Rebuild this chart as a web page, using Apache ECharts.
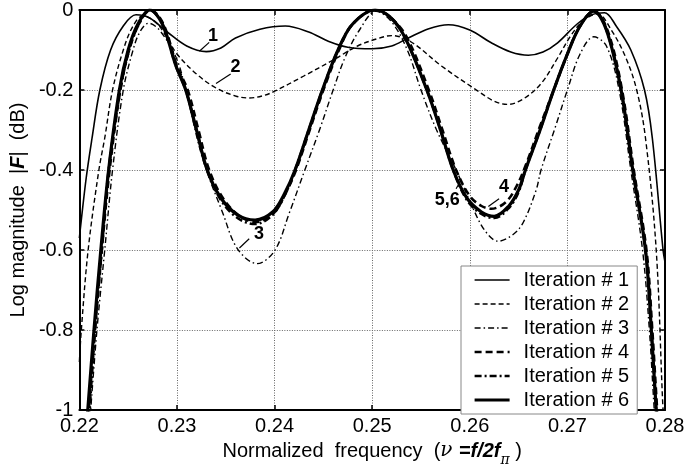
<!DOCTYPE html>
<html><head><meta charset="utf-8">
<script src="https://cdn.jsdelivr.net/npm/echarts@6/dist/echarts.min.js"></script>
<style>html,body{margin:0;padding:0;background:#fff}#c{width:697px;height:472px}</style>
</head><body><div id="c"></div>
<script>
// ---- data ----
const seriesNames = ['Iteration # 1','Iteration # 2','Iteration # 3','Iteration # 4','Iteration # 5','Iteration # 6'];

const x1 = [0.2200,0.2207,0.2213,0.2221,0.2232,0.2245,0.2258,0.2272,0.2290,0.2310,0.2330,0.2345,0.2360,0.2385,0.2411,0.2435,0.2455,0.2475,0.2500,0.2520,0.2537,0.2558,0.2578,0.2600,0.2622,0.2642,0.2660,0.2675,0.2690,0.2710,0.2725,0.2738,0.2750,0.2765,0.2779,0.2787,0.2798,0.2800];
const y1 = [-0.57,-0.42,-0.32,-0.2,-0.1,-0.04,-0.012,-0.02,-0.055,-0.09,-0.104,-0.095,-0.07,-0.048,-0.04,-0.055,-0.078,-0.093,-0.097,-0.09,-0.07,-0.047,-0.037,-0.05,-0.082,-0.105,-0.113,-0.105,-0.082,-0.035,-0.012,-0.007,-0.04,-0.1,-0.2,-0.32,-0.6,-0.63];

const x2 = [0.2200,0.2202,0.2209,0.2220,0.2226,0.2234,0.2245,0.2255,0.2265,0.2278,0.2290,0.2300,0.2320,0.2340,0.2360,0.2374,0.2390,0.2400,0.2430,0.2460,0.2485,0.2505,0.2520,0.2540,0.2571,0.2605,0.2625,0.2639,0.2655,0.2673,0.2690,0.2703,0.2717,0.2731,0.2745,0.2760,0.2771,0.2780,0.2791,0.2798,0.2800];
const y2 = [-0.88,-0.8,-0.6,-0.4,-0.32,-0.2,-0.1,-0.04,-0.015,-0.03,-0.07,-0.11,-0.16,-0.195,-0.215,-0.22,-0.213,-0.203,-0.165,-0.125,-0.09,-0.072,-0.064,-0.08,-0.14,-0.197,-0.228,-0.236,-0.222,-0.184,-0.12,-0.066,-0.025,-0.01,-0.05,-0.12,-0.2,-0.32,-0.6,-1.0,-1.05];

const x3 = [0.2211,0.2218,0.2226,0.2234,0.2245,0.2255,0.2262,0.2271,0.2282,0.2299,0.2309,0.2326,0.2347,0.2362,0.2382,0.2400,0.2415,0.2431,0.2446,0.2460,0.2472,0.2487,0.2504,0.2520,0.2536,0.2550,0.2566,0.2586,0.2601,0.2615,0.2629,0.2645,0.2655,0.2668,0.2673,0.2688,0.2700,0.2713,0.2727,0.2740,0.2753,0.2765,0.2777,0.2784,0.2789,0.2792];
const y3 = [-1.02,-0.8,-0.6,-0.4,-0.2,-0.1,-0.055,-0.033,-0.05,-0.118,-0.2,-0.369,-0.508,-0.597,-0.634,-0.602,-0.508,-0.4,-0.3,-0.2,-0.12,-0.05,-0.003,-0.03,-0.1,-0.2,-0.3,-0.4,-0.483,-0.55,-0.578,-0.56,-0.53,-0.45,-0.4,-0.29,-0.2,-0.11,-0.067,-0.09,-0.2,-0.4,-0.6,-0.8,-1.0,-1.1];

const x4 = [0.2209,0.2216,0.2223,0.2231,0.2242,0.2251,0.2261,0.2273,0.2286,0.2300,0.2311,0.2322,0.2333,0.2347,0.2364,0.2381,0.2399,0.2411,0.2422,0.2436,0.2450,0.2466,0.2480,0.2503,0.2518,0.2535,0.2558,0.2572,0.2586,0.2600,0.2612,0.2622,0.2637,0.2648,0.2657,0.2672,0.2686,0.2700,0.2713,0.2727,0.2741,0.2756,0.2768,0.2781,0.2787,0.2792,0.2795];
const y4 = [-1.02,-0.8,-0.6,-0.4,-0.2,-0.1,-0.035,0,-0.035,-0.14,-0.2,-0.3,-0.4,-0.47,-0.515,-0.53,-0.508,-0.46,-0.4,-0.3,-0.2,-0.1,-0.035,0,-0.017,-0.066,-0.2,-0.3,-0.4,-0.465,-0.49,-0.497,-0.48,-0.44,-0.39,-0.29,-0.2,-0.11,-0.04,-0.003,-0.05,-0.2,-0.4,-0.6,-0.8,-1.0,-1.1];

const x5 = [0.2210,0.2216,0.2223,0.2230,0.2242,0.2251,0.2261,0.2272,0.2285,0.2299,0.2309,0.2320,0.2331,0.2345,0.2362,0.2380,0.2398,0.2410,0.2421,0.2435,0.2449,0.2465,0.2480,0.2503,0.2518,0.2533,0.2556,0.2570,0.2583,0.2597,0.2612,0.2625,0.2640,0.2650,0.2657,0.2672,0.2686,0.2700,0.2713,0.2727,0.2740,0.2755,0.2767,0.2780,0.2786,0.2791,0.2794];
const y5 = [-1.02,-0.8,-0.6,-0.4,-0.2,-0.1,-0.035,0,-0.035,-0.14,-0.2,-0.3,-0.4,-0.475,-0.52,-0.535,-0.512,-0.465,-0.4,-0.3,-0.2,-0.1,-0.035,0,-0.017,-0.066,-0.2,-0.3,-0.4,-0.475,-0.51,-0.52,-0.495,-0.455,-0.4,-0.3,-0.2,-0.11,-0.04,-0.003,-0.05,-0.2,-0.4,-0.6,-0.8,-1.0,-1.1];

const x6 = [0.2208,0.2215,0.2222,0.2230,0.2241,0.2250,0.2260,0.2272,0.2285,0.2299,0.2309,0.2320,0.2331,0.2345,0.2362,0.2380,0.2398,0.2410,0.2421,0.2435,0.2449,0.2465,0.2480,0.2503,0.2518,0.2533,0.2556,0.2570,0.2583,0.2597,0.2612,0.2625,0.2640,0.2650,0.2657,0.2672,0.2686,0.2700,0.2713,0.2727,0.2740,0.2755,0.2767,0.2780,0.2786,0.2791,0.2794];
const y6 = [-1.02,-0.8,-0.6,-0.4,-0.2,-0.1,-0.035,0,-0.035,-0.14,-0.2,-0.3,-0.4,-0.47,-0.512,-0.525,-0.505,-0.46,-0.4,-0.3,-0.2,-0.1,-0.035,0,-0.017,-0.066,-0.2,-0.3,-0.4,-0.47,-0.505,-0.516,-0.49,-0.45,-0.4,-0.3,-0.2,-0.11,-0.04,-0.003,-0.05,-0.2,-0.4,-0.6,-0.8,-1.0,-1.1];

// curve annotations (data coordinates)
const annoText  = ['1','2','3','4','5,6'];
const annoTextX = [0.2337,0.2360,0.2384,0.2635,0.2577];
const annoTextY = [-0.066,-0.143,-0.560,-0.442,-0.474];
const annoLineX0 = [0.2323,0.2340,0.2364,0.2619,0.2586];
const annoLineY0 = [-0.103,-0.184,-0.595,-0.491,-0.447];
const annoLineX1 = [0.2333,0.2355,0.2374,0.2630,0.2591];
const annoLineY1 = [-0.081,-0.160,-0.572,-0.472,-0.425];

// ---- chart ----
const FONT = 'Liberation Sans, Arial, sans-serif';
const xs = [x1,x2,x3,x4,x5,x6], ys = [y1,y2,y3,y4,y5,y6];
const styles = [
  {width:1.6, type:'solid'},
  {width:1.4, type:[5,3]},
  {width:1.4, type:[6,3,1.5,3]},
  {width:2.6, type:[7,4]},
  {width:2.6, type:[7,3,2,3]},
  {width:3.2, type:'solid'}
];
const series = seriesNames.map((n,i)=>({
  name:n, type:'line', symbol:'none', smooth:0.35, clip:true,
  data: xs[i].map((x,k)=>[x, ys[i][k]]),
  lineStyle: Object.assign({color:'#000'}, styles[i]),
  itemStyle:{color:'#000'},
  z: 3+i
}));

const axisCommon = {
  axisLine:{show:true, onZero:false, lineStyle:{color:'#000', width:2}},
  axisTick:{show:true, inside:true, length:5, lineStyle:{color:'#000', width:1.5}},
};
const chart = echarts.init(document.getElementById('c'), null, {renderer:'canvas'});
chart.setOption({
  backgroundColor:'#fff',
  animation:false,
  grid:{left:76, right:32, top:10, bottom:55},
  xAxis:[
    Object.assign({type:'value', min:0.22, max:0.28, interval:0.01, position:'bottom',
      axisLabel:{color:'#000', fontSize:20, fontFamily:FONT, margin:6, formatter:v=>v.toFixed(2)},
      splitLine:{show:true, lineStyle:{color:'#666', type:[1,1.5], width:1}},
      name:'{n|Normalized  frequency  (}{i|ν }{b|=f/2f}{s|π}{n| )}',
      nameLocation:'middle', nameGap:25,
      nameTextStyle:{rich:{
        n:{fontSize:20, fontFamily:FONT, color:'#000'},
        i:{fontSize:20, fontFamily:'DejaVu Serif, serif', fontStyle:'italic', color:'#000'},
        b:{fontSize:20, fontFamily:FONT, fontStyle:'italic', fontWeight:'bold', color:'#000'},
        s:{fontSize:14, fontFamily:'DejaVu Serif, serif', fontStyle:'italic', color:'#000', padding:[18,0,0,0]}
      }}
    }, axisCommon),
    Object.assign({type:'value', min:0.22, max:0.28, interval:0.01, position:'top',
      axisLabel:{show:false}, splitLine:{show:false}}, axisCommon)
  ],
  yAxis:[
    Object.assign({type:'value', min:-1, max:0, interval:0.2, position:'left',
      axisLabel:{color:'#000', fontSize:20, fontFamily:FONT, margin:6,
        formatter:v=>{ if (Math.abs(v)<1e-9) return '0'; if (Math.abs(v+1)<1e-9) return '-1'; return v.toFixed(1); }},
      splitLine:{show:true, lineStyle:{color:'#666', type:[1,1.5], width:1}},
      name:'{n|Log magnitude  |}{b|F}{n||  (dB)}',
      nameLocation:'middle', nameGap:34,
      nameTextStyle:{rich:{
        n:{fontSize:20, fontFamily:FONT, color:'#000'},
        b:{fontSize:20, fontFamily:FONT, fontStyle:'italic', fontWeight:'bold', color:'#000'}
      }}
    }, axisCommon),
    Object.assign({type:'value', min:-1, max:0, interval:0.2, position:'right',
      axisLabel:{show:false}, splitLine:{show:false}}, axisCommon)
  ],
  legend:{
    show:true, orient:'vertical', left:461, top:266,
    backgroundColor:'#fff', borderColor:'#888', borderWidth:1, borderRadius:0,
    padding:[4,8,4,12], itemGap:4, itemWidth:35, itemHeight:14,
    itemStyle:{opacity:0, color:'transparent', borderWidth:0},
    textStyle:{color:'#000', fontSize:20, fontFamily:FONT, lineHeight:20, padding:[0,0,0,9]},
    data: seriesNames.map((n,i)=>({name:n,
      lineStyle:{color:'#000', width:styles[i].width, type:styles[i].type}}))
  },
  series: series
});

// annotations placed through the grid's own coordinate conversion
const g = [];
annoText.forEach((t,i)=>{
  const p = chart.convertToPixel({gridIndex:0}, [annoTextX[i], annoTextY[i]]);
  const a = chart.convertToPixel({gridIndex:0}, [annoLineX0[i], annoLineY0[i]]);
  const b = chart.convertToPixel({gridIndex:0}, [annoLineX1[i], annoLineY1[i]]);
  g.push({type:'text', x:p[0], y:p[1], z:100,
    style:{text:t, fill:'#000', font:'bold 18px '+FONT, textAlign:'center', textVerticalAlign:'middle'}});
  g.push({type:'line', z:100, shape:{x1:a[0], y1:a[1], x2:b[0], y2:b[1]}, style:{stroke:'#000', lineWidth:1.2}});
});
chart.setOption({graphic:g});
</script></body></html>
